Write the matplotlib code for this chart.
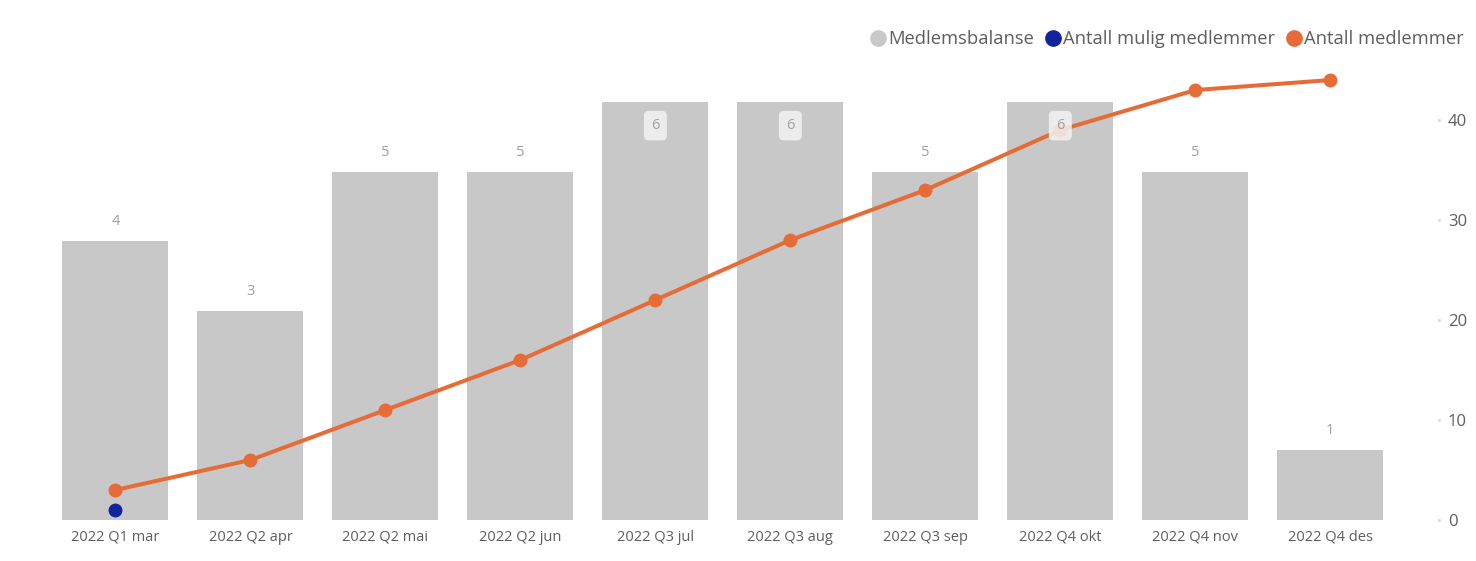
import numpy as np
import matplotlib.pyplot as plt
from matplotlib.lines import Line2D

plt.rcParams['font.family'] = ['Open Sans', 'DejaVu Sans']

months = ['2022 Q1 mar', '2022 Q2 apr', '2022 Q2 mai', '2022 Q2 jun', '2022 Q3 jul',
          '2022 Q3 aug', '2022 Q3 sep', '2022 Q4 okt', '2022 Q4 nov', '2022 Q4 des']
balanse = [4, 3, 5, 5, 6, 6, 5, 6, 5, 1]
medlemmer = [3, 6, 11, 16, 22, 28, 33, 39, 43, 44]
mulig = [1]  # only first month has a value

bar_col = '#c8c8c8'
orange = '#e66c37'
blue = '#12239e'
txt = '#605e5c'

x = np.arange(len(months))

fig = plt.figure(figsize=(14.76, 5.61), dpi=100)
ax = fig.add_axes([0.0325, 0.0731, 0.9145, 0.745])
ax.bar(x, balanse, width=0.785, color=bar_col, zorder=1)
ax.set_ylim(0, 6)
ax.set_xlim(-0.5, len(months) - 0.5)
ax.set_yticks([])
for s in ax.spines.values():
    s.set_visible(False)
ax.set_xticks(x)
ax.set_xticklabels(months, fontsize=10.5, color=txt)
ax.tick_params(axis='x', length=0, pad=7)

ax2 = ax.twinx()
ax2.set_ylim(0, 41.8)
for s in ax2.spines.values():
    s.set_visible(False)
ax2.set_yticks([0, 10, 20, 30, 40])
ax2.tick_params(axis='y', length=0, labelsize=12, labelcolor=txt, pad=36)
# faint tick dots
for t in [0, 10, 20, 30, 40]:
    ax2.plot([1.0305], [t], marker='s', ms=1, color='#d8d8d8',
             transform=ax2.get_yaxis_transform(), clip_on=False)
ax2.plot(x, medlemmer, color=orange, lw=2.9, marker='o', ms=9, clip_on=False, zorder=3)
ax2.plot(x[:len(mulig)], mulig, 'o', color=blue, ms=9, clip_on=False, zorder=3)

# data labels for the bars
for xi, v in zip(x, balanse):
    if v >= 6:
        ax2.annotate(str(v), (xi, 41.8), xytext=(0, -17), textcoords='offset points',
                     ha='center', va='center', fontsize=10.5, color='#a0a0a0', zorder=5,
                     bbox=dict(boxstyle='round,pad=0.5,rounding_size=0.35',
                               fc='#f3f3f3', ec='none', alpha=0.85))
    else:
        ax.annotate(str(v), (xi, v), xytext=(0, 14), textcoords='offset points',
                    ha='center', va='center', fontsize=10.5, color='#a0a0a0')

handles = [Line2D([], [], ls='none', marker='o', ms=11, color=bar_col),
           Line2D([], [], ls='none', marker='o', ms=11, color=blue),
           Line2D([], [], ls='none', marker='o', ms=11, color=orange)]
fig.legend(handles, ['Medlemsbalanse', 'Antall mulig medlemmer', 'Antall medlemmer'],
           loc='center right', bbox_to_anchor=(0.997, 0.93), ncol=3, frameon=False,
           fontsize=13.2, labelcolor=txt, handletextpad=0.0, columnspacing=0.5,
           handlelength=1.1, borderaxespad=0)

fig.savefig('out.png', dpi=100)
